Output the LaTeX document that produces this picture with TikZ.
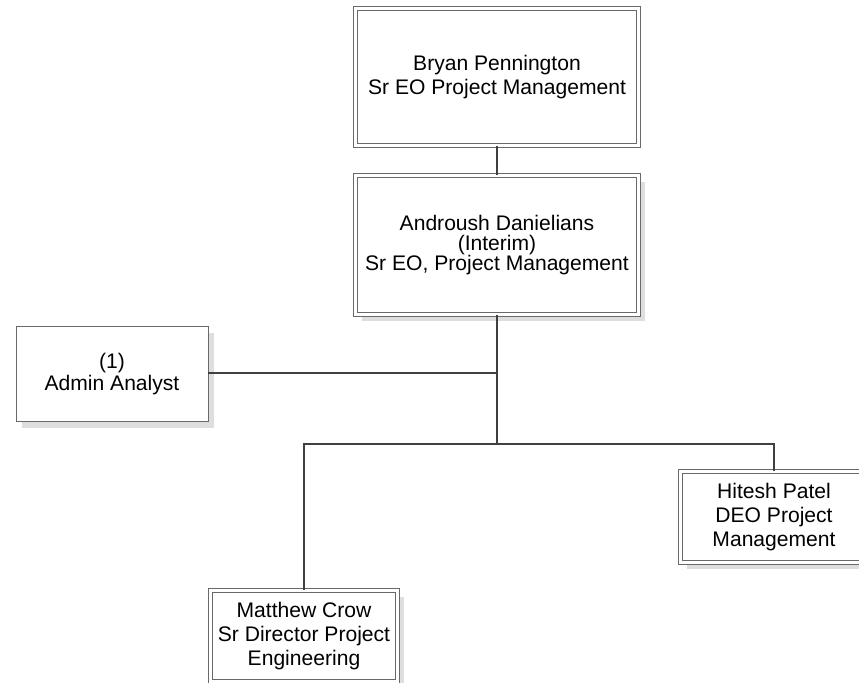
\documentclass[tikz,border=0pt]{standalone}
\usepackage{fontspec}
\setmainfont{Liberation Sans}
\usetikzlibrary{shadows}
\definecolor{framegray}{RGB}{105,105,105}
\definecolor{linkgray}{RGB}{64,64,64}
\definecolor{shadowgray}{RGB}{222,222,222}

\tikzset{
  unit box/.style={draw=framegray, fill=white, align=center, inner sep=0pt,
    line width=0.5pt, font=\fontsize{12}{13.6}\selectfont},
  dbox/.style={unit box, double=white, double distance=1.8pt},
  shade box/.style={drop shadow={shadow xshift=3.6pt, shadow yshift=-3.6pt,
    fill=shadowgray, opacity=1}},
  link/.style={draw=linkgray, line width=1.6pt},
}

\begin{document}
\begin{tikzpicture}[x=0.02cm, y=-0.02cm]
  \useasboundingbox (0,0) rectangle (859,683);
  \clip (0,0) rectangle (859,683);

  % Top of the chart
  \node[dbox, minimum width=5.67cm, minimum height=2.75cm] (bryan) at (497,77)
    {Bryan Pennington\\Sr EO Project Management};
  \node[dbox, shade box, minimum width=5.67cm, minimum height=2.77cm,
    font=\fontsize{12}{11.2}\selectfont] (androush) at (497,245)
    {Androush Danielians\\(Interim)\\Sr EO, Project Management};

  % Staff box
  \node[unit box, shade box, minimum width=3.84cm, minimum height=1.9cm,
    font=\fontsize{12}{12.5}\selectfont] (admin) at (112,374)
    {(1)\\Admin Analyst};

  % Direct reports
  \node[dbox, shade box, minimum width=3.75cm, minimum height=1.82cm] (matthew) at (304,636)
    {Matthew Crow\\Sr Director Project\\Engineering};
  \node[dbox, shade box, minimum width=3.74cm, minimum height=1.83cm] (hitesh) at (774,517)
    {Hitesh Patel\\DEO Project\\Management};

  % Connectors
  \coordinate (bus) at (497,444);
  \draw[link] (bryan) -- (androush);
  \draw[link] (androush) -- (bus);
  \draw[link] (admin.east |- 0,373) -- (bus |- 0,373);
  \draw[link] (matthew) |- (bus) -| (hitesh);
\end{tikzpicture}
\end{document}
